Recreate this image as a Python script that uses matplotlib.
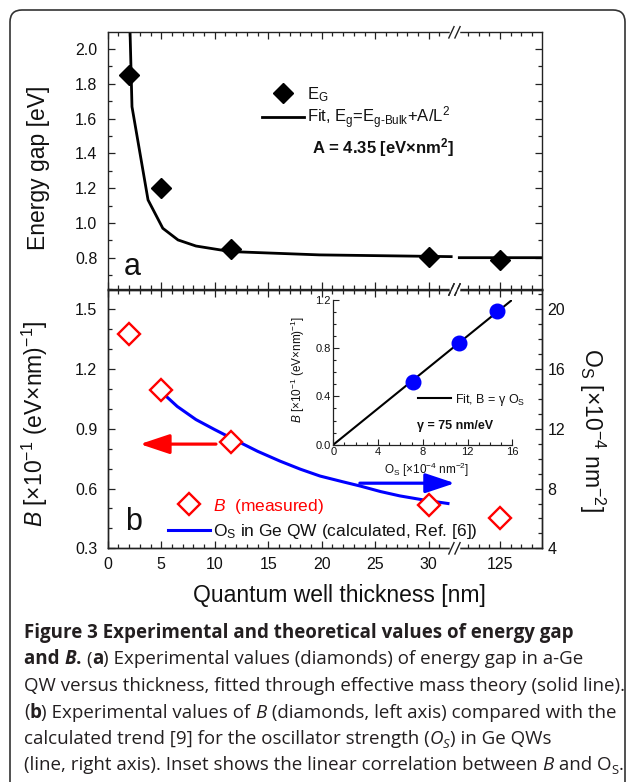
import numpy as np
import matplotlib
matplotlib.use("Agg")
import matplotlib.pyplot as plt
from matplotlib.patches import FancyBboxPatch
from matplotlib.ticker import FixedLocator, MultipleLocator
from matplotlib.transforms import IdentityTransform

# ---------------- data ----------------
# panel a: energy gap
eg_thick = [2.0, 5.0, 11.5, 30.0, 125.0]
eg_vals = [1.85, 1.20, 0.848, 0.806, 0.787]
fit_thick = [2.08, 2.27, 3.77, 5.15, 6.57, 8.25, 11.5, 19.8, 32.1, np.nan, 121.2, 129.0]
fit_vals = [2.12, 1.668, 1.132, 0.969, 0.902, 0.867, 0.835, 0.816, 0.806, np.nan, 0.800, 0.800]

# panel b: B (left axis) and oscillator strength (right axis)
b_thick = [2.0, 5.0, 11.5, 30.0, 125.0]
b_vals = [1.376, 1.096, 0.836, 0.518, 0.450]
os_thick = [5.3, 6.5, 8.25, 10.0, 11.5, 14.0, 16.1, 18.0, 19.84, 22.0, 23.6, 25.5, 27.3, 29.5, 31.8]
os_vals = [14.29, 13.50, 12.62, 11.95, 11.40, 10.50, 9.84, 9.30, 8.84, 8.45, 8.17, 7.80, 7.51, 7.24, 7.0]

# inset: B vs O_S
ins_os = [7.10, 11.26, 14.6]
ins_b = [0.517, 0.842, 1.109]
ins_fit_os = [0.0, 16.0]
ins_fit_b = [0.0, 1.2]

x_major = [0, 5, 10, 15, 20, 25, 30, 125]
x_minor = [v for v in range(1, 32) if v % 5 != 0] + [122, 123, 124, 126, 127, 128]

# ---------------- style ----------------
W, H = 627, 782
plt.rcParams["font.family"] = ["Liberation Sans", "DejaVu Sans"]
plt.rcParams["mathtext.fontset"] = "custom"
plt.rcParams["mathtext.rm"] = "Liberation Sans"
plt.rcParams["mathtext.it"] = "Liberation Sans:italic"
plt.rcParams["mathtext.bf"] = "Liberation Sans:bold"

RED = "#ff0000"
BLUE = "#0000ff"
TXT = "#111111"

fig = plt.figure(figsize=(W / 100, H / 100), dpi=100)


def fx(px):
    return px / W


def fy(py):
    return 1 - py / H


# broken x axis scale
brk_data = [-100.0, 32.3, 121.0, 400.0]
brk_disp = [-100.0, 32.3, 32.66, 311.66]


def fwd(x):
    return np.interp(x, brk_data, brk_disp)


def inv(x):
    return np.interp(x, brk_disp, brk_data)


L, R = 107.7, 541.7
ax_a = fig.add_axes([fx(L), fy(289.5), fx(R - L), (289.5 - 32.3) / H])
ax_b = fig.add_axes([fx(L), fy(548.3), fx(R - L), (548.3 - 289.5) / H])
ax_o = ax_b.twinx()


def style_x(ax):
    ax.set_xscale("function", functions=(fwd, inv))
    ax.set_xlim(0, 128.9)
    ax.xaxis.set_major_locator(FixedLocator(x_major))
    ax.xaxis.set_minor_locator(FixedLocator(x_minor))


for ax in (ax_a, ax_b, ax_o):
    style_x(ax)
    for s in ax.spines.values():
        s.set_linewidth(1.0)
        s.set_color("#222222")

tick_kw = dict(which="both", direction="in", width=0.9, colors="#222222",
               labelsize=11.5, labelcolor=TXT)
ax_a.tick_params(top=True, right=True, labelbottom=False, pad=7.5, **tick_kw)
ax_a.tick_params(which="major", length=5)
ax_a.tick_params(which="minor", length=3)
ax_b.tick_params(top=True, right=False, pad=7.5, **tick_kw)
ax_b.tick_params(which="major", length=5)
ax_b.tick_params(which="minor", length=3)
ax_b.tick_params(axis="x", pad=6)
ax_o.tick_params(left=False, right=True, top=False, bottom=False, pad=4, **tick_kw)
ax_o.tick_params(which="major", length=5)
ax_o.tick_params(which="minor", length=3)

# ---- panel a ----
ax_a.set_ylim(0.617, 2.096)
ax_a.yaxis.set_major_locator(FixedLocator([0.8, 1.0, 1.2, 1.4, 1.6, 1.8, 2.0]))
ax_a.yaxis.set_minor_locator(MultipleLocator(0.1))
ax_a.set_yticklabels(["0.8", "1.0", "1.2", "1.4", "1.6", "1.8", "2.0"])
fit_line, = ax_a.plot(fit_thick, fit_vals, color="black", lw=2.0, zorder=2,
                      solid_joinstyle="miter")
eg_pts, = ax_a.plot(eg_thick, eg_vals, ls="none", marker="D", ms=10.5,
                    color="black", zorder=3)
ax_a.set_ylabel("Energy gap [eV]", fontsize=16.5, color=TXT)
ax_a.yaxis.set_label_coords((50 - L) / (R - L), 0.474)
leg_a = ax_a.legend([eg_pts, fit_line],
                    [r"E$_\mathrm{G}$", r"Fit, E$_\mathrm{g}$=E$_{\text{g-Bulk}}$+A/L$^2$"],
                    loc="upper left", bbox_to_anchor=((262 - L) / (R - L), 0.795),
                    frameon=False, borderpad=0, borderaxespad=0, handlelength=2.5,
                    handletextpad=0.2, labelspacing=0.05, fontsize=12, numpoints=1)
for t in leg_a.get_texts():
    t.set_color(TXT)
ax_a.text((311.7 - L) / (R - L), 0.551, r"A = 4.35 [eV×nm$^\mathbf{2}$]",
          transform=ax_a.transAxes, fontsize=12, fontweight="bold",
          ha="left", va="center", color=TXT)
ax_a.text(0.056, 0.0886, "a", transform=ax_a.transAxes, fontsize=22,
          ha="center", va="center", color=TXT)

# ---- panel b ----
ax_b.set_ylim(0.3, 1.6)
ax_b.yaxis.set_major_locator(FixedLocator([0.3, 0.6, 0.9, 1.2, 1.5]))
ax_b.yaxis.set_minor_locator(MultipleLocator(0.1))
ax_b.set_xticklabels(["0", "5", "10", "15", "20", "25", "30", "125"])
ax_o.set_ylim(4, 21.333)
ax_o.yaxis.set_major_locator(FixedLocator([4, 8, 12, 16, 20]))
ax_o.yaxis.set_minor_locator(MultipleLocator(1))

os_line, = ax_o.plot(os_thick, os_vals, color=BLUE, lw=2.2, zorder=2)
b_pts, = ax_b.plot(b_thick, b_vals, ls="none", marker="D", ms=11,
                   mfc="white", mec=RED, mew=1.7, zorder=3)
ax_b.set_zorder(ax_o.get_zorder() + 1)
ax_b.patch.set_visible(False)

ax_b.set_ylabel(r"$\it{B}$ [×10$^{-1}$ (eV×nm)$^{-1}$]", fontsize=16.5, color=TXT)
ax_b.yaxis.set_label_coords((50 - L) / (R - L), 0.481)
ax_o.set_ylabel(r"O$_\mathrm{S}$ [×10$^{-4}$ nm$^{-2}$]", fontsize=16.5,
                rotation=-90, color=TXT, va="center")
ax_o.yaxis.set_label_coords((591.7 - L) / (R - L), 0.458)
ax_b.set_xlabel("Quantum well thickness [nm]", fontsize=16.5, color=TXT, va="center")
ax_b.xaxis.set_label_coords(0.535, -0.181)

leg_b = ax_b.legend([b_pts, os_line],
                    [r"$\it{B}$  (measured)", r"O$_\mathrm{S}$ in Ge QW (calculated, Ref. [6])"],
                    loc="upper left", bbox_to_anchor=((168.3 - L) / (R - L), 0.20),
                    frameon=False, borderpad=0, borderaxespad=0, handlelength=2.4,
                    handletextpad=0.15, labelspacing=0.35, fontsize=12.5, numpoints=1)
leg_b.get_texts()[0].set_color(RED)
leg_b.get_texts()[1].set_color(TXT)

ax_b.text(0.059, 0.103, "b", transform=ax_b.transAxes, fontsize=22,
          ha="center", va="center", color=TXT)

# arrows (axes fraction)
arrow_style = "-|>,head_length=0.9,head_width=0.3"
ax_b.annotate("", xy=(0.0744, 0.4026), xytext=(0.2495, 0.4026),
              xycoords="axes fraction", textcoords="axes fraction",
              arrowprops=dict(arrowstyle=arrow_style, color=RED, lw=2.3,
                              mutation_scale=20, shrinkA=0, shrinkB=0))
ax_b.annotate("", xy=(0.800, 0.2516), xytext=(0.581, 0.2516),
              xycoords="axes fraction", textcoords="axes fraction",
              arrowprops=dict(arrowstyle=arrow_style, color=BLUE, lw=2.3,
                              mutation_scale=20, shrinkA=0, shrinkB=0))

# axis break marks
for ax in (ax_a, ax_b):
    for yb in (0.0, 1.0):
        ax.plot([0.792, 0.806], [yb, yb], transform=ax.transAxes, color="white",
                lw=2.5, clip_on=False, zorder=10)
        for xb in (0.792, 0.806):
            ax.plot([xb - 0.006, xb + 0.006], [yb - 0.022, yb + 0.022],
                    transform=ax.transAxes, color="#222222", lw=1.0,
                    clip_on=False, zorder=11)

# ---- inset ----
IL, IR, IT, IB = 333.3, 512.3, 299.7, 444.7
ax_i = fig.add_axes([fx(IL), fy(IB), fx(IR - IL), (IB - IT) / H])
ax_i.set_zorder(ax_b.get_zorder() + 1)
ax_i.patch.set_visible(False)
ax_i.set_xlim(0, 16)
ax_i.set_ylim(0, 1.2)
ax_i.spines["top"].set_visible(False)
ax_i.spines["right"].set_visible(False)
for s in ("left", "bottom"):
    ax_i.spines[s].set_linewidth(0.9)
    ax_i.spines[s].set_color("#222222")
ax_i.xaxis.set_major_locator(FixedLocator([0, 4, 8, 12, 16]))
ax_i.xaxis.set_minor_locator(MultipleLocator(1))
ax_i.yaxis.set_major_locator(FixedLocator([0.0, 0.4, 0.8, 1.2]))
ax_i.yaxis.set_minor_locator(MultipleLocator(0.1))
ax_i.set_yticklabels(["0.0", "0.4", "0.8", "1.2"])
ax_i.tick_params(which="both", direction="in", width=0.8, labelsize=8,
                 colors="#222222", labelcolor=TXT, pad=2)
ax_i.tick_params(which="major", length=4)
ax_i.tick_params(which="minor", length=2.2)
ins_fit, = ax_i.plot(ins_fit_os, ins_fit_b, color="black", lw=1.5, zorder=2)
ax_i.plot(ins_os, ins_b, ls="none", marker="o", ms=10.5, color=BLUE, zorder=3)
ax_i.set_xlabel(r"O$_\mathrm{S}$ [×10$^{-4}$ nm$^{-2}$]", fontsize=8.5, color=TXT,
                va="center")
ax_i.xaxis.set_label_coords(0.522, -0.172)
ax_i.set_ylabel(r"$\it{B}$ [×10$^{-1}$ (eV×nm)$^{-1}$]", fontsize=8.5, color=TXT,
                va="center")
ax_i.yaxis.set_label_coords((298 - IL) / (IR - IL), 0.522)
leg_i = ax_i.legend([ins_fit], [r"Fit, B = γ O$_\mathrm{S}$"], loc="center left",
                    bbox_to_anchor=((418.3 - IL) / (IR - IL), 0.31), frameon=False,
                    borderpad=0, borderaxespad=0, handlelength=2.6,
                    handletextpad=0.3, fontsize=9)
leg_i.get_texts()[0].set_color(TXT)
ax_i.text((416.7 - IL) / (IR - IL), 0.131, "γ = 75 nm/eV", transform=ax_i.transAxes,
          fontsize=9, fontweight="bold", ha="left", va="center", color=TXT)

# ---- outer rounded frame ----
frame = FancyBboxPatch((10, -40), 615, H - 10 + 40,
                       boxstyle="round,pad=0,rounding_size=12",
                       transform=IdentityTransform(), fill=False,
                       edgecolor="#333333", lw=1.2)
fig.add_artist(frame)

# ---- caption ----
CAP_FONT = ["Open Sans", "DejaVu Sans"]
CAP_COLOR = "#231f20"
renderer = fig.canvas.get_renderer()


def seg_width(txt, size, weight, style):
    t1 = fig.text(0, 0, txt + "|", fontsize=size, family=CAP_FONT, weight=weight, style=style)
    t2 = fig.text(0, 0, "|", fontsize=size, family=CAP_FONT, weight=weight, style=style)
    w = t1.get_window_extent(renderer).width - t2.get_window_extent(renderer).width
    t1.remove()
    t2.remove()
    return w


ref_line = "QW versus thickness, fitted through effective mass theory (solid line)."
cap_size = 12.0 * 600.0 / seg_width(ref_line, 12.0, "normal", "normal")

caption = [
    [("Figure 3 Experimental and theoretical values of energy gap", "bold", "normal", 0)],
    [("and ", "bold", "normal", 0), ("B", "bold", "italic", 0), (". ", "bold", "normal", 0),
     ("(", "normal", "normal", 0), ("a", "bold", "normal", 0),
     (") Experimental values (diamonds) of energy gap in a-Ge", "normal", "normal", 0)],
    [("QW versus thickness, fitted through effective mass theory (solid line).", "normal", "normal", 0)],
    [("(", "normal", "normal", 0), ("b", "bold", "normal", 0),
     (") Experimental values of ", "normal", "normal", 0), ("B", "normal", "italic", 0),
     (" (diamonds, left axis) compared with the", "normal", "normal", 0)],
    [("calculated trend [9] for the oscillator strength (", "normal", "normal", 0),
     ("O", "normal", "italic", 0), ("S", "normal", "italic", 1),
     (") in Ge QWs", "normal", "normal", 0)],
    [("(line, right axis). Inset shows the linear correlation between ", "normal", "normal", 0),
     ("B", "normal", "italic", 0), (" and O", "normal", "normal", 0),
     ("S", "normal", "normal", 1), (".", "normal", "normal", 0)],
]
base0, step = 638.0, 26.5
for i, line in enumerate(caption):
    x = 24.0
    yb = base0 + i * step
    for txt, weight, style, sub in line:
        size = cap_size * (0.7 if sub else 1.0)
        yy = yb + (3.5 if sub else 0)
        fig.text(fx(x), fy(yy), txt, fontsize=size, family=CAP_FONT, weight=weight,
                 style=style, color=CAP_COLOR, ha="left", va="baseline")
        x += seg_width(txt, size, weight, style)

fig.savefig("out.png", dpi=100)
